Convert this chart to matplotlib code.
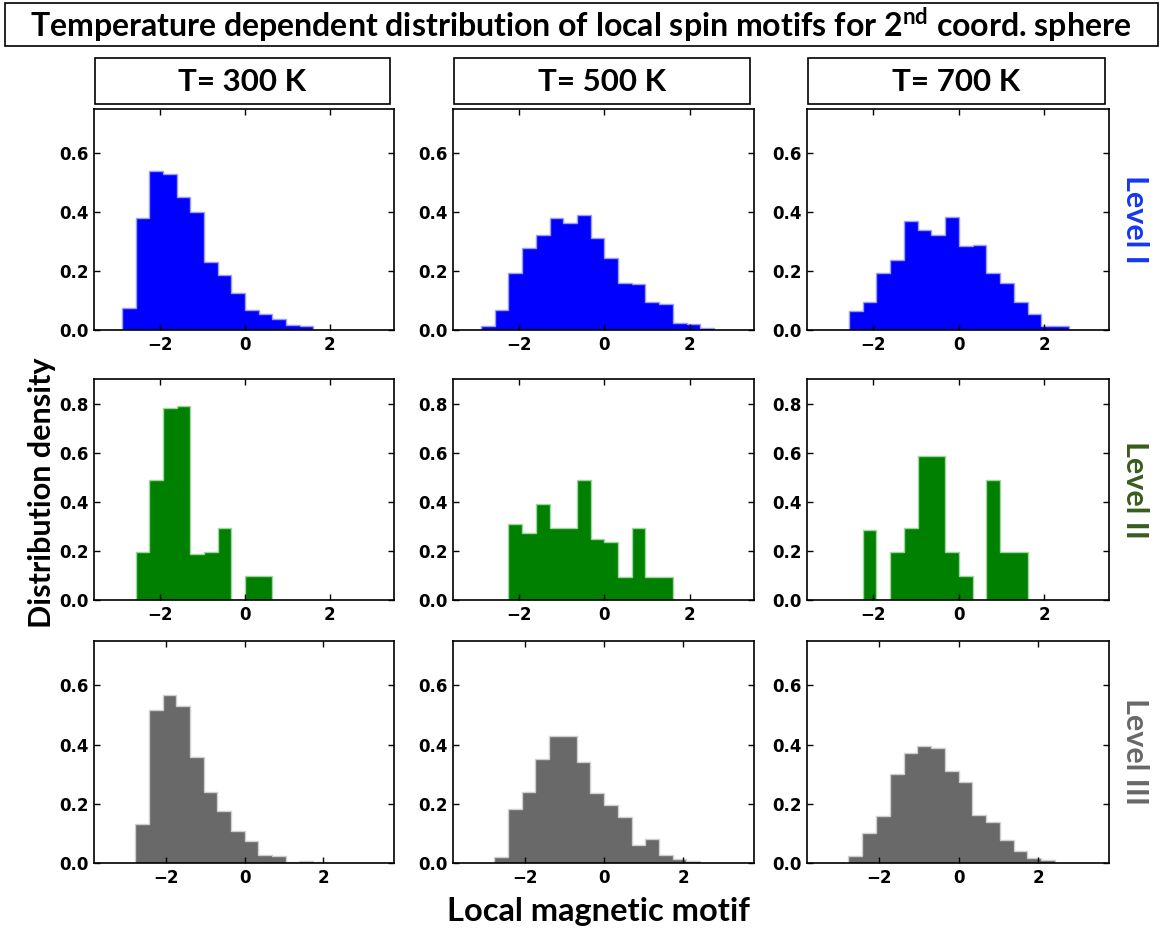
import numpy as np
import matplotlib
matplotlib.use("Agg")
import matplotlib.pyplot as plt
from matplotlib.patches import Rectangle

# Histogram heights (density), one list per panel.
# Bins are uniform; first_bin is the index of the left edge in units of the bin width.
temps = ["T= 300 K", "T= 500 K", "T= 700 K"]
levels = ["Level I", "Level II", "Level III"]

bin_width_12 = 0.3216   # levels I and II
bin_width_3 = 0.347     # level III

lvl1_300 = [0.075, 0.380, 0.541, 0.529, 0.451, 0.401, 0.231, 0.188, 0.127, 0.068, 0.053, 0.036, 0.016, 0.0135]
lvl1_500 = [0.0135, 0.068, 0.195, 0.279, 0.324, 0.381, 0.363, 0.389, 0.312, 0.244, 0.161, 0.156, 0.094, 0.087,
            0.025, 0.019, 0.008]
lvl1_700 = [0.063, 0.096, 0.195, 0.239, 0.370, 0.339, 0.321, 0.385, 0.286, 0.290, 0.192, 0.159, 0.095, 0.053,
            0.0135, 0.0135]
lvl1_first = [-9, -9, -8]

lvl2_300 = [0.194, 0.489, 0.782, 0.792, 0.186, 0.194, 0.293, 0.0, 0.096, 0.096]
lvl2_500 = [0.310, 0.274, 0.389, 0.292, 0.292, 0.488, 0.248, 0.237, 0.095, 0.292, 0.095, 0.095]
lvl2_700 = [0.286, 0.0, 0.194, 0.293, 0.586, 0.586, 0.194, 0.096, 0.0, 0.489, 0.194, 0.194]
lvl2_first = [-8, -7, -7]

lvl3_300 = [0.133, 0.517, 0.567, 0.529, 0.359, 0.239, 0.174, 0.108, 0.074, 0.027, 0.0225, 0.0045, 0.0056, 0.002]
lvl3_500 = [0.019, 0.182, 0.241, 0.352, 0.428, 0.430, 0.342, 0.237, 0.195, 0.154, 0.061, 0.081, 0.027, 0.0146,
            0.0056]
lvl3_700 = [0.024, 0.102, 0.158, 0.300, 0.373, 0.394, 0.390, 0.311, 0.272, 0.162, 0.140, 0.079, 0.039, 0.018,
            0.011]
lvl3_first = [-8, -8, -8]

x_ticks = [-2, 0, 2]
y_ticks_short = [0.0, 0.2, 0.4, 0.6]
y_ticks_tall = [0.0, 0.2, 0.4, 0.6, 0.8]

rows = [
    dict(data=[lvl1_300, lvl1_500, lvl1_700], first=lvl1_first, w=bin_width_12,
         fc="#0000ff", ec="#9c9cff", lab="#1537f5", ylim=0.75, yt=y_ticks_short, xlim=(-3.55, 3.51)),
    dict(data=[lvl2_300, lvl2_500, lvl2_700], first=lvl2_first, w=bin_width_12,
         fc="#008000", ec="#9fd69f", lab="#385c1d", ylim=0.9, yt=y_ticks_tall, xlim=(-3.55, 3.51)),
    dict(data=[lvl3_300, lvl3_500, lvl3_700], first=lvl3_first, w=bin_width_3,
         fc="#696969", ec="#cfcfcf", lab="#686868", ylim=0.75, yt=y_ticks_short, xlim=(-3.82, 3.79)),
]

W, H = 1166, 936
plt.rcParams["mathtext.fontset"] = "custom"
plt.rcParams["mathtext.rm"] = "Lato"
plt.rcParams["mathtext.bf"] = "Lato:bold"

fig = plt.figure(figsize=(W / 100, H / 100), dpi=100)


def px_box(x0, y0, x1, y1, lw=1.2):
    fig.add_artist(Rectangle((x0 / W, 1 - y1 / H), (x1 - x0) / W, (y1 - y0) / H,
                             transform=fig.transFigure, fill=False, ec="black", lw=lw))


col_x = [(94, 394), (453, 754), (807, 1109)]
row_y = [(109, 330), (379, 600), (641, 863)]

for r, row in enumerate(rows):
    for c in range(3):
        x0, x1 = col_x[c]
        y0, y1 = row_y[r]
        ax = fig.add_axes([x0 / W, 1 - y1 / H, (x1 - x0) / W, (y1 - y0) / H])
        heights = np.array(row["data"][c])
        edges = (row["first"][c] + np.arange(len(heights) + 1)) * row["w"]
        ax.stairs(heights, edges, fill=True, facecolor=row["fc"], edgecolor=row["ec"], lw=1.0)
        ax.set_xlim(*row["xlim"])
        ax.set_ylim(0, row["ylim"])
        ax.set_xticks(x_ticks)
        ax.set_yticks(row["yt"])
        ax.set_xticklabels(["\u22122", "0", "2"])
        ax.set_yticklabels([f"{v:.1f}" for v in row["yt"]])
        ax.tick_params(direction="in", top=True, right=True, length=4, width=1,
                       labelsize=12, pad=4)
        for lbl in ax.get_xticklabels() + ax.get_yticklabels():
            lbl.set_fontweight("bold")
        for s in ax.spines.values():
            s.set_linewidth(1.2)

# title and column headers
px_box(5, 3, 1158, 46)
fig.text(581 / W, 1 - 25 / H,
         r"Temperature dependent distribution of local spin motifs for 2$^{\mathbf{nd}}$ coord. sphere",
         family="Lato", weight="bold", fontsize=23, ha="center", va="center")

for c, t in enumerate(temps):
    x0, x1 = col_x[c]
    px_box(x0 + 1, 58, x1 - 4, 104)
    fig.text((x0 + x1 - 3) / 2 / W, 1 - 82 / H, t, family="Lato", weight="bold",
             fontsize=22.5, ha="center", va="center")

# row labels on the right
for r, row in enumerate(rows):
    y0, y1 = row_y[r]
    fig.text(1135 / W, 1 - (y0 + y1) / 2 / H, levels[r], family="Lato", weight="bold",
             fontsize=22, color=row["lab"], rotation=-90, ha="center", va="center")

fig.text(42 / W, 1 - 493 / H, "Distribution density", family="Lato", weight="bold",
         fontsize=22, rotation=90, ha="center", va="center")
fig.text(598 / W, 1 - 912 / H, "Local magnetic motif", family="Lato", weight="bold",
         fontsize=23.5, ha="center", va="center")

fig.savefig("out.png", dpi=100)
